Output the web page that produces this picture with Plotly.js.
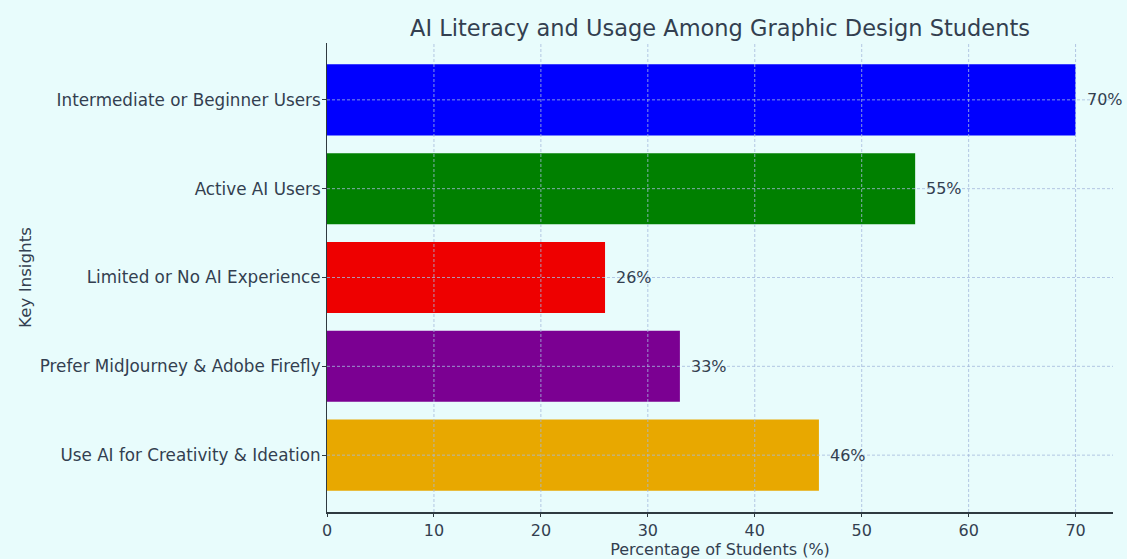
<!DOCTYPE html>
<html>
<head>
<meta charset="utf-8">
<script src="https://cdn.plot.ly/plotly-3.0.1.min.js"></script>
<style>
  html, body { margin: 0; padding: 0; background: #e8fcfc; }
  #chart { width: 1127px; height: 559px; }
</style>
</head>
<body>
<div id="chart"></div>
<script>
// Survey insights, listed top to bottom
const insights = [
  "Intermediate or Beginner Users",
  "Active AI Users",
  "Limited or No AI Experience",
  "Prefer MidJourney & Adobe Firefly",
  "Use AI for Creativity & Ideation"
];
const percentages = [70, 55, 26, 33, 46];
const barColors = ["#0000ff", "#008000", "#ee0000", "#7b0092", "#e8a800"];
const xTicks = [0, 10, 20, 30, 40, 50, 60, 70];

const inkColor = "#333f50";
const gridColor = "rgba(165,185,220,0.8)";
const spineColor = "#2f3a40";

const bars = {
  type: "bar",
  orientation: "h",
  y: insights,
  x: percentages,
  width: 0.8,
  marker: { color: barColors, line: { width: 0 } },
  hoverinfo: "x+y"
};

// Dashed grid drawn over the bars
const gridShapes = [];
xTicks.slice(1).forEach(v => {
  gridShapes.push({
    type: "line", layer: "above", xref: "x", yref: "paper",
    x0: v, x1: v, y0: 0, y1: 1,
    line: { color: gridColor, width: 1, dash: "3px,2px" }
  });
});
insights.forEach(c => {
  gridShapes.push({
    type: "line", layer: "above", xref: "paper", yref: "y",
    x0: 0, x1: 1, y0: c, y1: c,
    line: { color: gridColor, width: 1, dash: "3px,2px" }
  });
});

// Percentage labels to the right of each bar
const valueLabels = insights.map((c, i) => ({
  x: percentages[i], y: c, xref: "x", yref: "y",
  text: percentages[i] + "%",
  showarrow: false, xanchor: "left", yanchor: "middle", xshift: 9,
  font: { family: "DejaVu Sans", size: 16, color: inkColor }
}));

const layout = {
  width: 1127,
  height: 559,
  paper_bgcolor: "#e8fcfc",
  plot_bgcolor: "#e8fcfc",
  margin: { l: 327, r: 14, t: 43, b: 47 },
  showlegend: false,
  title: {
    text: "AI Literacy and Usage Among Graphic Design Students",
    font: { family: "DejaVu Sans", size: 22.5, color: inkColor },
    x: 0.5, xref: "paper", xanchor: "center",
    y: 0.95, yref: "container", yanchor: "middle"
  },
  xaxis: {
    range: [0, 73.5],
    tickvals: xTicks,
    ticktext: xTicks.map(String),
    showgrid: false,
    zeroline: false,
    showline: true,
    linecolor: spineColor,
    linewidth: 1.5,
    ticks: "outside",
    ticklen: 3.5,
    tickcolor: spineColor,
    ticklabelstandoff: 0,
    tickfont: { family: "DejaVu Sans", size: 16, color: inkColor },
    title: {
      text: "Percentage of Students (%)",
      font: { family: "DejaVu Sans", size: 16, color: inkColor },
      standoff: 0
    }
  },
  yaxis: {
    type: "category",
    range: [4.64, -0.64],
    showgrid: false,
    zeroline: false,
    showline: true,
    linecolor: spineColor,
    linewidth: 1.5,
    ticks: "outside",
    ticklen: 3.5,
    tickcolor: spineColor,
    ticklabelstandoff: -2,
    tickfont: { family: "DejaVu Sans", size: 16.8, color: inkColor },
    title: {
      text: "Key Insights",
      font: { family: "DejaVu Sans", size: 16.7, color: inkColor },
      standoff: 4
    }
  },
  shapes: gridShapes,
  annotations: valueLabels
};

Plotly.newPlot("chart", [bars], layout, { displayModeBar: false, staticPlot: true });
</script>
</body>
</html>
